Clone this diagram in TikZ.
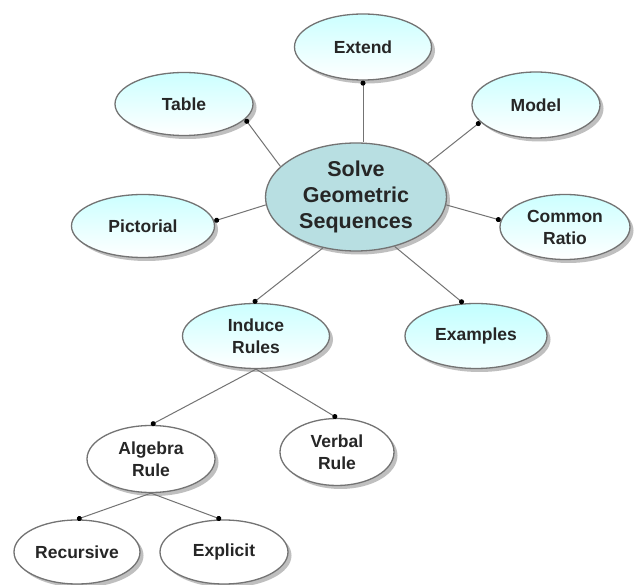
\documentclass[tikz,border=0pt]{standalone}
\usepackage{fontspec}
\setmainfont{Liberation Sans}
\usetikzlibrary{shapes.geometric,shadows,arrows.meta}
\begin{document}
\begin{tikzpicture}[x=1pt,y=1pt,
 bub/.style={ellipse, draw=black!55, line width=1.3pt, inner sep=0pt, align=center,
   font=\fontsize{17.5}{22}\selectfont\bfseries, text=black!85,
   drop shadow={shadow xshift=3.5pt, shadow yshift=-3.5pt, fill=black!45, opacity=0.55}},
 lite/.style={bub, top color=cyan!20, bottom color=white},
 plain/.style={bub, fill=white},
 big/.style={bub, fill={rgb,255:red,184;green,223;blue,226}, font=\fontsize{21.5}{26}\selectfont\bfseries},
 conn/.style={draw=black!55, line width=1pt, -{Circle[length=5pt, color=black]}},
]
\fill[white] (0,0) rectangle (641,-585);
\useasboundingbox (0,0) rectangle (641,-585);

\node[big, minimum width=181, minimum height=108] (solve) at (356,-197) {Solve\\Geometric\\Sequences};
\node[lite, minimum width=137, minimum height=66] (ext) at (363,-47) {Extend};
\node[lite, minimum width=138, minimum height=63] (tab) at (184,-104) {Table};
\node[lite, minimum width=128, minimum height=66] (mod) at (536,-105) {Model};
\node[lite, minimum width=143, minimum height=63] (pic) at (143,-226) {Pictorial};
\node[lite, minimum width=130, minimum height=65] (ratio) at (565,-227) {Common\\Ratio};
\node[lite, minimum width=147, minimum height=65] (ind) at (256,-336) {Induce\\Rules};
\node[lite, top color=cyan!24, bottom color=cyan!5, minimum width=142, minimum height=65] (exa) at (476,-336) {Examples};
\node[plain, minimum width=128, minimum height=67] (alg) at (151,-459) {Algebra\\Rule};
\node[plain, minimum width=114, minimum height=67] (verb) at (337,-452) {Verbal\\Rule};
\node[plain, minimum width=126, minimum height=64] (rec) at (77,-552) {Recursive};
\node[plain, minimum width=128, minimum height=64] (exp) at (224,-552) {Explicit};

\draw[conn] (ext.south |- solve.north) -- (ext.south);
\draw[conn] (solve.158) -- (tab.-14);
\draw[conn] (solve.25) -- (mod.197);
\draw[conn] (solve.185) -- (pic.4);
\draw[conn] (solve.-5) -- (ratio.174);
\draw[conn] (solve.237) -- (ind.95);
\draw[conn] (solve.-52) -- (exa.111);
\draw[conn] (ind.south) -- (alg.north);
\draw[conn] (ind.south) -- (verb.north);
\draw[conn] (alg.south) -- (rec.north);
\draw[conn] (alg.south) -- (exp.95);
\end{tikzpicture}
\end{document}
